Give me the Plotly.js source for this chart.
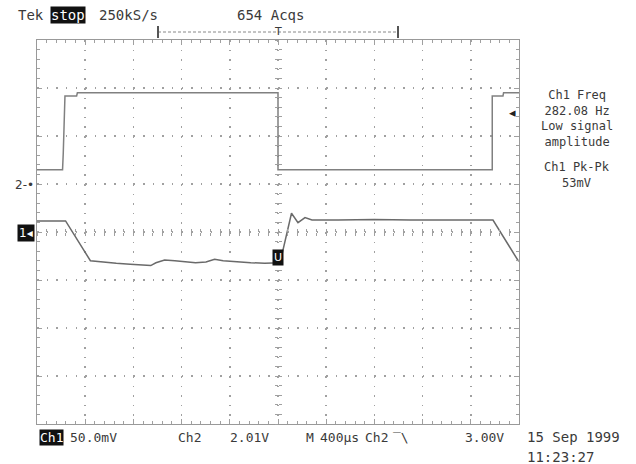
<!DOCTYPE html>
<html>
<head>
<meta charset="utf-8">
<script src="https://cdn.plot.ly/plotly-3.0.1.min.js"></script>
<style>
html,body{margin:0;padding:0;background:#fff;}
#chart{width:636px;height:464px;}
</style>
</head>
<body>
<div id="chart"></div>
<script>
// ---- Data (time in µs, trigger at 0) ----
// Channel 1 (mV, 50 mV/div)
const ch1Time = [-2000, -1763, -1557, -1456, -1342, -1227, -1113, -1056, -1013, -941, -856, -770, -684, -598, -526, -455, -340, -226, -111, -11, 17, 112, 166, 224, 282, 500, 800, 1100, 1400, 1784, 1992, 2000];
const ch1mV   = [11.5, 11.5, -29.9, -31.3, -32.6, -33.7, -34.7, -35.0, -32.0, -29.2, -29.9, -31.3, -32.0, -31.3, -28.5, -29.9, -31.3, -32.0, -32.6, -32.6, -32.0, 19.5, 9.7, 15.0, 12.5, 12.5, 13.0, 12.5, 12.5, 12.5, -29.7, -30.5];
// Channel 2 (V, 2.01 V/div)
const ch2Time = [-2000, -1788, -1782, -1768, -1671, -1665, 0, 0, 1778, 1778, 1867, 1872, 2000];
const ch2V    = [0.6, 0.6, 1.3, 3.69, 3.69, 3.82, 3.82, 0.6, 0.6, 3.69, 3.69, 3.82, 3.82];

// Scope settings
const timePerDiv = 400;     // µs
const ch1PerDiv = 50.0;     // mV
const ch2PerDiv = 2.01;     // V
const ch2OffsetDiv = 1;     // ch2 ground marker one division above centre
const hDivs = 10, vDivs = 8;

// Screen text
const headerLeft = "Tek";
const stopLabel = "stop";
const sampleRate = "250kS/s";
const acqs = "654 Acqs";
const measA = ["Ch1 Freq", "282.08 Hz", "Low signal", "amplitude"];
const measB = ["Ch1 Pk-Pk", "53mV"];
const footer = {ch1: "Ch1", ch1Scale: "50.0mV", ch2: "Ch2", ch2Scale: "2.01V", m: "M", time: "400µs", trigSrc: "Ch2", trigSlope: "\u203E\\", trigLevel: "3.00V"};
const dateLines = ["15 Sep 1999", "11:23:27"];

// ---- Layout helpers (pixel -> paper) ----
const L = 37, R = 519, T = 40, B = 424;
const px = X => (X - L) / (R - L);
const py = Y => (B - Y) / (B - T);

const tRange = [-timePerDiv * hDivs / 2, timePerDiv * hDivs / 2];
const y1Range = [-ch1PerDiv * vDivs / 2, ch1PerDiv * vDivs / 2];
const y2Range = [-ch2PerDiv * (vDivs / 2 + ch2OffsetDiv), ch2PerDiv * (vDivs / 2 - ch2OffsetDiv)];

const gc = '#a0a0a0';
const txt = '#3a3a3a';
const FAM = 'DejaVu Sans Mono';
const fnt = {family: FAM, size: 14, color: txt};
const fntS = {family: FAM, size: 13, color: txt};
const fntM = {family: FAM, size: 12, color: txt};

const traces = [
  {x: ch2Time, y: ch2V, xaxis: 'x', yaxis: 'y2', mode: 'lines', line: {color: '#808080', width: 1.5}, hoverinfo: 'skip', showlegend: false},
  {x: ch1Time, y: ch1mV, xaxis: 'x', yaxis: 'y', mode: 'lines', line: {color: '#6a6a6a', width: 1.5}, hoverinfo: 'skip', showlegend: false},
  // anchors for the centre cross-hair tick axes
  {x: [], y: [], xaxis: 'x2', yaxis: 'y', mode: 'lines', hoverinfo: 'skip', showlegend: false},
  {x: [], y: [], xaxis: 'x3', yaxis: 'y', mode: 'lines', hoverinfo: 'skip', showlegend: false},
  {x: [], y: [], xaxis: 'x', yaxis: 'y3', mode: 'lines', hoverinfo: 'skip', showlegend: false},
  {x: [], y: [], xaxis: 'x', yaxis: 'y4', mode: 'lines', hoverinfo: 'skip', showlegend: false}
];

const crossX = (ticks) => ({overlaying: 'x', anchor: 'free', position: 0.5, range: tRange, tick0: 0, dtick: timePerDiv / 5,
  ticks: ticks, ticklen: 3, tickwidth: 1, tickcolor: gc, showgrid: false, showline: false, zeroline: false, showticklabels: false, fixedrange: true});
const crossY = (ticks) => ({overlaying: 'y', anchor: 'free', position: 0.5, range: y1Range, tick0: 0, dtick: ch1PerDiv / 5,
  ticks: ticks, ticklen: 3, tickwidth: 1, tickcolor: gc, showgrid: false, showline: false, zeroline: false, showticklabels: false, fixedrange: true});

function ann(text, X, Y, xanchor, extra) {
  return Object.assign({text: text, xref: 'paper', yref: 'paper', x: px(X), y: py(Y), xanchor: xanchor || 'left', yanchor: 'middle', showarrow: false, font: fnt}, extra || {});
}
const boxed = {bgcolor: '#111', font: {family: FAM, size: 14, color: '#fff'}, borderpad: 0};
const boxedS = {bgcolor: '#111', font: {family: FAM, size: 13, color: '#fff'}, borderpad: 0};

const annotations = [
  ann(headerLeft, 16, 15),
  ann(stopLabel, 50, 15, 'left', boxed),
  ann(sampleRate, 97, 15),
  ann(acqs, 235, 15),
  ann("T", 278, 31, 'center', {font: {family: 'DejaVu Sans', size: 11, color: txt}}),
  ann(measA.join('<br>'), 577, 119, 'center', {align: 'center', font: fntM}),
  ann(measB.join('<br>'), 577, 175, 'center', {align: 'center', font: fntM}),
  ann(footer.ch1, 39, 437, 'left', boxedS),
  ann(footer.ch1Scale, 68, 437, 'left', {font: fntS}),
  ann(footer.ch2, 176, 437, 'left', {font: fntS}),
  ann(footer.ch2Scale, 228, 437, 'left', {font: fntS}),
  ann(footer.m, 304, 437, 'left', {font: fntS}),
  ann(footer.time, 318, 437, 'left', {font: fntS}),
  ann(footer.trigSrc, 363, 437, 'left', {font: fntS}),
  ann(footer.trigSlope, 391, 437, 'left', {font: fntS}),
  ann(footer.trigLevel, 506, 437, 'right', {font: fntS}),
  ann(dateLines[0], 525, 437),
  ann(dateLines[1], 525, 457),
  ann("2-•", 36, 185, 'right', {font: {family: 'DejaVu Sans', size: 12, color: txt}}),
  ann("1◂", 17, 233, 'left', {bgcolor: '#111', font: {family: 'DejaVu Sans', size: 12, color: '#fff'}, borderpad: 1}),
  ann("◂", 518, 112, 'right', {font: {family: 'DejaVu Sans', size: 13, color: '#222'}}),
  ann("U", 278, 257, 'center', {bgcolor: '#111', font: {family: 'DejaVu Sans', size: 11, color: '#fff'}, borderpad: 1})
];

const shapes = [
  {type: 'line', xref: 'paper', yref: 'paper', x0: px(158), x1: px(398), y0: py(32), y1: py(32), line: {color: '#888', width: 1, dash: '3px,2px'}},
  {type: 'line', xref: 'paper', yref: 'paper', x0: px(158), x1: px(158), y0: py(26), y1: py(38), line: {color: '#555', width: 2}},
  {type: 'line', xref: 'paper', yref: 'paper', x0: px(398), x1: px(398), y0: py(26), y1: py(38), line: {color: '#555', width: 2}}
];

const layout = {
  width: 636, height: 464,
  margin: {l: L, r: 636 - R, t: T, b: 464 - B, pad: 0},
  paper_bgcolor: '#fff', plot_bgcolor: '#fff',
  font: fnt,
  showlegend: false,
  xaxis: {range: tRange, tick0: 0, dtick: timePerDiv, showticklabels: false, showgrid: true, gridcolor: gc, gridwidth: 1.5, griddash: '1.5px,8.1px',
    zeroline: false, showline: true, linecolor: '#999', linewidth: 1.2, mirror: 'ticks', ticks: 'inside', ticklen: 5, tickcolor: gc,
    minor: {dtick: timePerDiv / 5, tick0: 0, ticks: 'inside', ticklen: 3, tickcolor: gc, showgrid: false}, fixedrange: true},
  yaxis: {range: y1Range, tick0: 0, dtick: ch1PerDiv, showticklabels: false, showgrid: true, gridcolor: gc, gridwidth: 1.5, griddash: '1.5px,8.14px',
    zeroline: false, showline: true, linecolor: '#999', linewidth: 1.2, mirror: 'ticks', ticks: 'inside', ticklen: 5, tickcolor: gc,
    minor: {dtick: ch1PerDiv / 5, tick0: 0, ticks: 'inside', ticklen: 3, tickcolor: gc, showgrid: false}, fixedrange: true},
  yaxis2: {overlaying: 'y', range: y2Range, visible: false, fixedrange: true},
  xaxis2: crossX('outside'),
  xaxis3: crossX('inside'),
  yaxis3: crossY('outside'),
  yaxis4: crossY('inside'),
  annotations: annotations,
  shapes: shapes
};

Plotly.newPlot('chart', traces, layout, {staticPlot: true, displayModeBar: false});
</script>
</body>
</html>
